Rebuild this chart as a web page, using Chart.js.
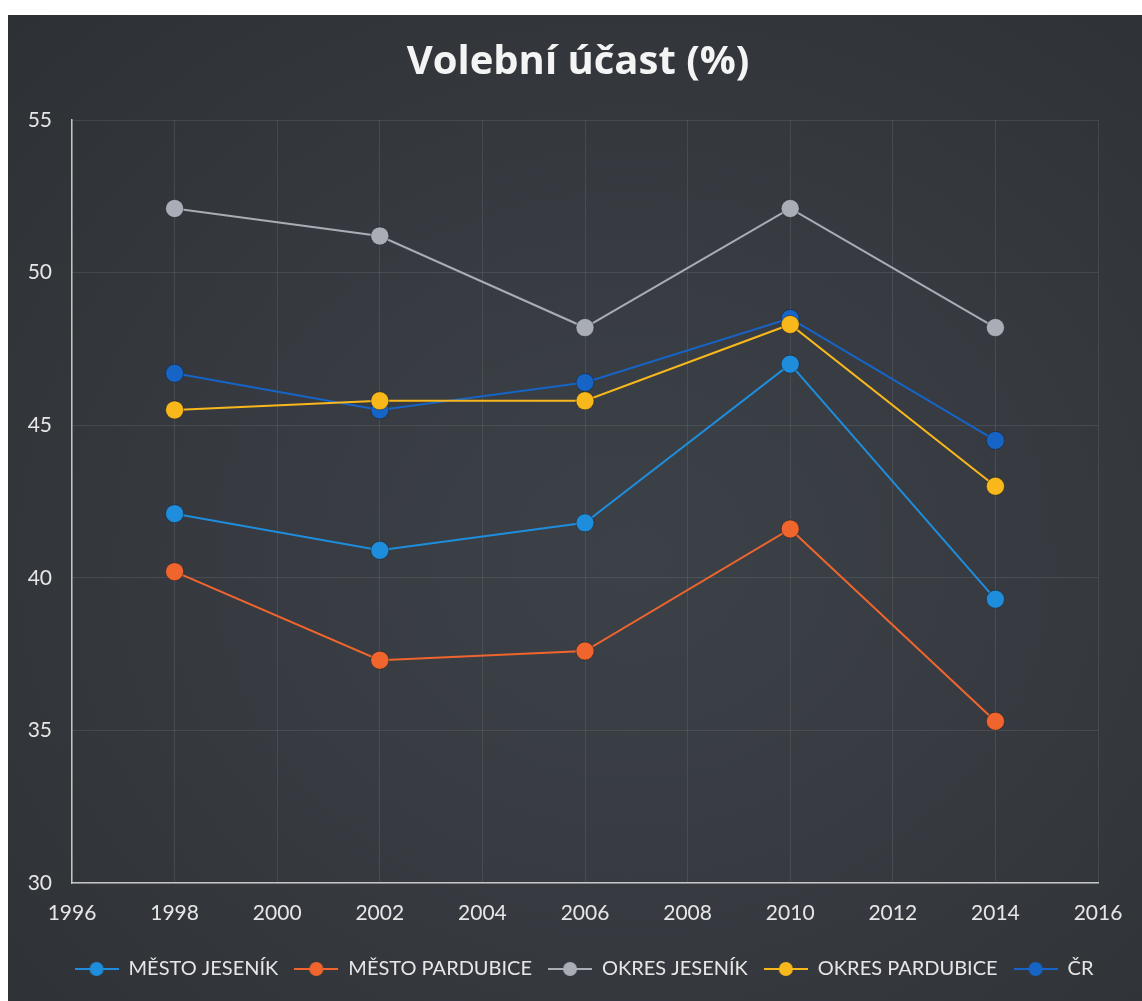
<!DOCTYPE html>
<html lang="cs">
<head>
<meta charset="utf-8">
<title>Volební účast (%)</title>
<script src="https://cdn.jsdelivr.net/npm/chart.js@4.4.1/dist/chart.umd.min.js"></script>
<style>
  html, body { margin: 0; padding: 0; background: #ffffff; }
  #panel {
    position: absolute;
    left: 8px; top: 15px;
    width: 1134px; height: 986px;
    background: radial-gradient(ellipse at 55% 55%, #3c4148 0%, #373b41 45%, #2d3034 100%);
  }
  #chart { display: block; }
</style>
</head>
<body>
<div id="panel"><canvas id="chart" width="1134" height="986"></canvas></div>
<script>
const YEARS = [1998, 2002, 2006, 2010, 2014];

const MESTO_JESENIK = [42.1, 40.9, 41.8, 47.0, 39.3];
const MESTO_PARDUBICE = [40.2, 37.3, 37.6, 41.6, 35.3];
const OKRES_JESENIK = [52.1, 51.2, 48.2, 52.1, 48.2];
const OKRES_PARDUBICE = [45.5, 45.8, 45.8, 48.3, 43.0];
const CR = [46.7, 45.5, 46.4, 48.5, 44.5];

const SERIES_LABELS = ['MĚSTO JESENÍK', 'MĚSTO PARDUBICE', 'OKRES JESENÍK', 'OKRES PARDUBICE', 'ČR'];

const COLORS = {
  jesenik: '#1e8ddc',
  pardubice: '#f0652e',
  okresJesenik: '#a9adb5',
  okresPardubice: '#f8b81c',
  cr: '#1664c6',
};

const TEXT = '#e6e6e6';
const FONT = 'Lato, "Open Sans", sans-serif';

// legend marker: short line with a dot in the middle, like Excel
function legendMarker(color) {
  const c = document.createElement('canvas');
  c.width = 44;
  c.height = 18;
  const ctx = c.getContext('2d');
  ctx.strokeStyle = color;
  ctx.lineWidth = 2;
  ctx.beginPath();
  ctx.moveTo(0, 9);
  ctx.lineTo(44, 9);
  ctx.stroke();
  ctx.fillStyle = color;
  ctx.beginPath();
  ctx.arc(22, 9, 7, 0, Math.PI * 2);
  ctx.fill();
  return c;
}

function series(label, values, color) {
  return {
    label,
    data: values.map((v, i) => ({ x: YEARS[i], y: v })),
    showLine: true,
    borderColor: color,
    backgroundColor: color,
    borderWidth: 2,
    pointRadius: 9,
    pointHoverRadius: 9,
    pointStyle: 'circle',
    pointBorderColor: 'rgba(20,20,20,0.4)',
    pointBorderWidth: 1,
    legendStyle: legendMarker(color),
  };
}

const datasets = [
  series(SERIES_LABELS[0], MESTO_JESENIK, COLORS.jesenik),
  series(SERIES_LABELS[1], MESTO_PARDUBICE, COLORS.pardubice),
  series(SERIES_LABELS[2], OKRES_JESENIK, COLORS.okresJesenik),
  series(SERIES_LABELS[3], OKRES_PARDUBICE, COLORS.okresPardubice),
  series(SERIES_LABELS[4], CR, COLORS.cr),
];

// the plot leaves a wide gap on the right, but Excel centres title and legend
// on the whole panel, so nudge both boxes right after layout
const centreOnPanel = {
  id: 'centreOnPanel',
  afterLayout(chart) {
    chart.legend.left += 31;
    chart.legend.right += 31;
    if (chart.titleBlock) {
      chart.titleBlock.left += 25;
      chart.titleBlock.right += 25;
    }
  },
};

new Chart(document.getElementById('chart'), {
  type: 'scatter',
  data: { datasets },
  plugins: [centreOnPanel],
  options: {
    responsive: false,
    animation: false,
    layout: { padding: { left: 0, right: 44, top: 0, bottom: 12 } },
    plugins: {
      title: {
        display: true,
        text: 'Volební účast (%)',
        color: '#f4f4f4',
        font: { family: '"Open Sans", sans-serif', size: 40, weight: 'bold' },
        padding: { top: 24, bottom: 33 },
      },
      legend: {
        position: 'bottom',
        labels: {
          color: TEXT,
          font: { family: FONT, size: 20 },
          usePointStyle: true,
          pointStyleWidth: 44,
          padding: 16,
          generateLabels(chart) {
            return chart.data.datasets.map((d, i) => ({
              text: d.label,
              fillStyle: d.borderColor,
              strokeStyle: d.borderColor,
              fontColor: TEXT,
              lineWidth: 0,
              pointStyle: d.legendStyle,
              datasetIndex: i,
            }));
          },
        },
      },
      tooltip: { enabled: false },
    },
    scales: {
      x: {
        type: 'linear',
        min: 1996,
        max: 2016,
        ticks: { stepSize: 2, color: TEXT, font: { family: FONT, size: 21 }, padding: 18, callback: (v) => String(v) },
        grid: { color: 'rgba(255,255,255,0.09)', drawTicks: false },
        border: { color: '#c4c4c4', width: 1.5 },
        afterFit: (scale) => { scale.height = 60; },
      },
      y: {
        min: 30,
        max: 55,
        ticks: { stepSize: 5, color: TEXT, font: { family: FONT, size: 21 }, padding: 20 },
        grid: { color: 'rgba(255,255,255,0.09)', drawTicks: false },
        border: { color: '#c4c4c4', width: 1.5 },
        afterFit: (scale) => { scale.width = 64; },
      },
    },
  },
});
</script>
</body>
</html>
